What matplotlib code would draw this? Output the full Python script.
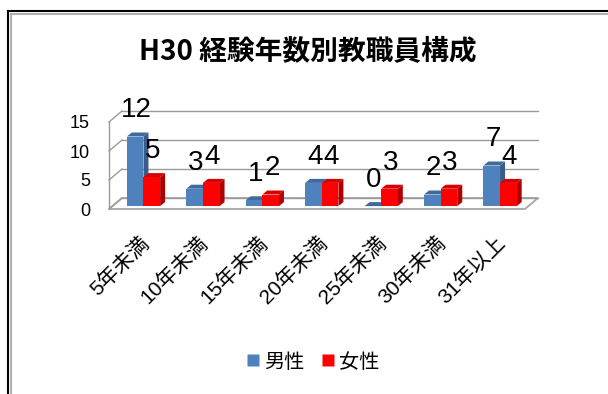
import matplotlib
matplotlib.use("Agg")
import matplotlib.pyplot as plt
from matplotlib.patches import Polygon
from matplotlib.lines import Line2D

plt.rcParams['font.family'] = ['Noto Sans CJK JP', 'DejaVu Sans']
# digits in Arial-like face, Japanese from the CJK face
LABEL_FONT = ['Liberation Sans', 'Noto Sans CJK JP']

# data
categories = ["5年未満", "10年未満", "15年未満", "20年未満", "25年未満", "30年未満", "31年以上"]
male = [12, 3, 1, 4, 0, 2, 7]
female = [5, 4, 2, 4, 3, 3, 4]
series_names = ["男性", "女性"]
y_ticks = [0, 5, 10, 15]
title = "H30 経験年数別教職員構成"

# figure size in pixels and the pseudo-3D scale (pixels per unit)
W, H = 608, 394
PX_X = 59.43   # pixels per category
PX_Y = 5.8     # pixels per value unit

# depth of the walls and of each bar (in data units)
WALL_DX, WALL_DY = 13 / PX_X, 11 / PX_Y
BAR_DX, BAR_DY = 5 / PX_X, 4 / PX_Y
BAR_X0 = 0.30     # offset of the first bar inside a category
BAR_W = 0.28
BAR_BASE = 0.5    # bars stand a little behind the front edge

colors = {
    "男性": ("#4F81BD", "#3F6A9E", "#385D8A"),   # front, top, side
    "女性": ("#FF0000", "#D60000", "#B00000"),
}

fig = plt.figure(figsize=(W / 100, H / 100), dpi=100)

# axes: left edge at the front-left corner of the floor, bottom at value 0
left_px, right_px, top_px, floor_px = 109, 560, 60, 209
ax = fig.add_axes([left_px / W, 1 - floor_px / H,
                   (right_px - left_px) / W, (floor_px - top_px) / H])
ax.set_xlim(0, (right_px - left_px) / PX_X)
ax.set_ylim(0, (floor_px - top_px) / PX_Y)
for s in ax.spines.values():
    s.set_visible(False)

n = len(categories)
grid_c = "#9A9A9A"

# floor
floor = Polygon([(0, 0), (n, 0), (n + WALL_DX, WALL_DY), (WALL_DX, WALL_DY)],
                closed=True, facecolor="white", edgecolor="#A6A6A6", lw=1.3,
                zorder=1, clip_on=False)
ax.add_patch(floor)

# back wall gridlines and left wall
top = max(y_ticks)
ax.plot([0, 0], [0, top], color=grid_c, lw=1.0, zorder=1, clip_on=False)
for v in y_ticks:
    ax.plot([WALL_DX, n + WALL_DX], [v + WALL_DY, v + WALL_DY],
            color=grid_c, lw=1.0, zorder=1, clip_on=False)
    ax.plot([0, WALL_DX], [v, v + WALL_DY], color=grid_c, lw=1.0,
            zorder=1, clip_on=False)


def draw_bar(x0, value, name, z):
    front, top_c, side = colors[name]
    x1 = x0 + BAR_W
    y0 = BAR_BASE
    y1 = BAR_BASE + value
    ax.add_patch(Polygon([(x1, y0), (x1 + BAR_DX, y0 + BAR_DY),
                          (x1 + BAR_DX, y1 + BAR_DY), (x1, y1)],
                         closed=True, facecolor=side, edgecolor="none",
                         zorder=z, clip_on=False))
    ax.add_patch(Polygon([(x0, y1), (x1, y1), (x1 + BAR_DX, y1 + BAR_DY),
                          (x0 + BAR_DX, y1 + BAR_DY)],
                         closed=True, facecolor=top_c, edgecolor="none",
                         zorder=z, clip_on=False))
    if value > 0:
        ax.bar(x0, value, width=BAR_W, bottom=y0, align="edge",
               color=front, edgecolor="none", zorder=z + 0.5)
    ax.annotate(str(value), xy=(x0 + BAR_W / 2 + 0.02, y1), xytext=(0, 13.7),
                textcoords="offset points", ha="center", va="baseline",
                fontsize=20, family=LABEL_FONT, zorder=20,
                annotation_clip=False)


for i in range(n):
    draw_bar(i + BAR_X0, male[i], series_names[0], 3 + i * 2)
    draw_bar(i + BAR_X0 + BAR_W, female[i], series_names[1], 4 + i * 2)

# ticks
ax.set_yticks(y_ticks)
ax.set_yticklabels([str(v) for v in y_ticks], fontsize=13, family=LABEL_FONT)
ax.tick_params(axis="y", length=0, pad=13.7)
ax.set_xticks([i + 0.5 for i in range(n)])
ax.set_xticklabels(categories, fontsize=15, rotation=45, family=LABEL_FONT,
                   rotation_mode="anchor", ha="right", va="top")
ax.tick_params(axis="x", length=0, pad=17)

# title
fig.text(308 / W, 1 - 52 / H, title, ha="center", va="center",
         fontsize=20, fontweight="bold")

# legend
handles = [Line2D([], [], marker="s", ls="none", markersize=8.6,
                  markerfacecolor=colors[nm][0], markeredgecolor="none")
           for nm in series_names]
fig.legend(handles, series_names, loc="center",
           bbox_to_anchor=(313 / W, 1 - 362 / H), ncol=2, frameon=False,
           fontsize=14.5, handlelength=0.6, handletextpad=0.25,
           columnspacing=0.9)

# outer frame (black line with grey inner line)
fig.add_artist(Line2D([8 / W, 1], [1 - 11 / H, 1 - 11 / H], color="black",
                      lw=1.5, transform=fig.transFigure))
fig.add_artist(Line2D([8 / W, 8 / W], [1 - 11 / H, 0], color="black",
                      lw=1.5, transform=fig.transFigure))
fig.add_artist(Line2D([10.5 / W, 1], [1 - 13.5 / H, 1 - 13.5 / H],
                      color="#B0B0B0", lw=1.5, transform=fig.transFigure))
fig.add_artist(Line2D([10.5 / W, 10.5 / W], [1 - 13.5 / H, 0],
                      color="#B0B0B0", lw=1.5, transform=fig.transFigure))

fig.savefig("out.png", dpi=100)
